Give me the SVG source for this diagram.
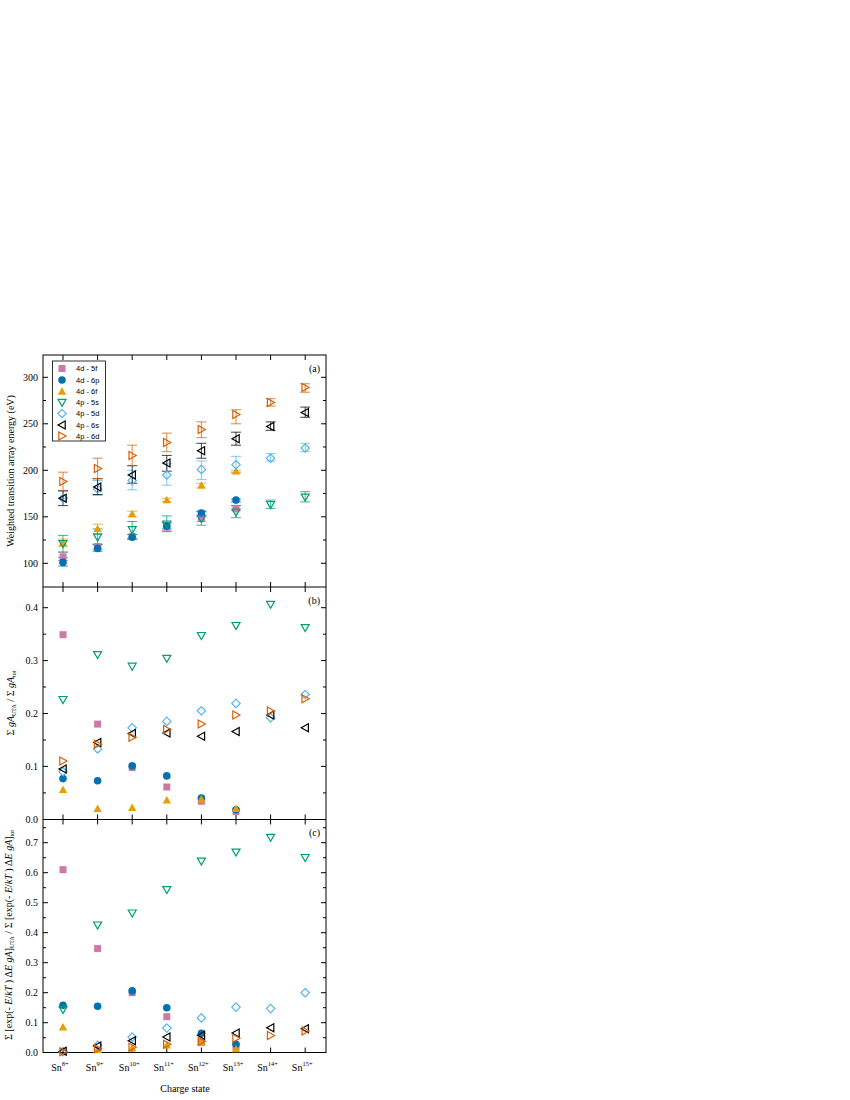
<svg xmlns="http://www.w3.org/2000/svg" xmlns:xlink="http://www.w3.org/1999/xlink" width="850" height="1100" viewBox="0 0 850 1100">
<style>
text{font-family:"Liberation Serif","Times New Roman",serif;fill:#000}
.tl{font-size:10px;text-anchor:end}
.xl{font-size:10px;text-anchor:middle}
.lg{font-family:"Liberation Sans",Arial,sans-serif;font-size:7.5px}
.ax{fill:none;stroke:#000;stroke-width:1}
.eb{fill:none;stroke-width:1;opacity:0.75}
</style>
<defs>
<rect id="sq" x="-3.5" y="-3.5" width="7" height="7" fill="#CC79A7"/>
<circle id="ci" r="3.8" fill="#0072B2"/>
<path id="tu" d="M0-4.2L4.2 3.2H-4.2Z" fill="#E69F00"/>
<path id="td" d="M-4 -3.2H4L0 3.8Z" fill="none" stroke="#009E73" stroke-width="1.2"/>
<path id="di" d="M0-4.2L4.2 0L0 4.2L-4.2 0Z" fill="none" stroke="#56B4E9" stroke-width="1.2"/>
<path id="tlf" d="M-4 0L3.2-4V4Z" fill="none" stroke="#000" stroke-width="1.2"/>
<path id="trf" d="M4 0L-3.2-4V4Z" fill="none" stroke="#D55E00" stroke-width="1.2"/>
</defs>
<g id="axes">
<rect class="ax" x="43" y="355" width="283" height="697.5"/>
<path class="ax" d="M43 587H326M43 819.5H326"/>
<path class="ax" d="M43 563.3h5M43 516.8h5M43 470.3h5M43 423.8h5M43 377.3h5M43 540h3M43 493.5h3M43 447h3M43 400.5h3M326 563.3h-5M326 516.8h-5M326 470.3h-5M326 423.8h-5M326 377.3h-5M326 540h-3M326 493.5h-3M326 447h-3M326 400.5h-3
M43 766.4h5M43 713.5h5M43 660.6h5M43 607.7h5M43 792.9h3M43 740h3M43 687h3M43 634.2h3M326 766.4h-5M326 713.5h-5M326 660.6h-5M326 607.7h-5M326 792.9h-3M326 740h-3M326 687h-3M326 634.2h-3
M43 1022.7h5M43 992.7h5M43 962.7h5M43 932.7h5M43 902.7h5M43 872.7h5M43 842.7h5M43 1037.7h3M43 1007.7h3M43 977.7h3M43 947.7h3M43 917.7h3M43 887.7h3M43 857.7h3M43 827.7h3M326 1022.7h-5M326 992.7h-5M326 962.7h-5M326 932.7h-5M326 902.7h-5M326 872.7h-5M326 842.7h-5M326 1037.7h-3M326 1007.7h-3M326 977.7h-3M326 947.7h-3M326 917.7h-3M326 887.7h-3M326 857.7h-3M326 827.7h-3"/>
<path class="ax" d="M63 355v5M97.6 355v5M132.2 355v5M166.8 355v5M201.4 355v5M236 355v5M270.6 355v5M305.2 355v5
M63 582v10M97.6 582v10M132.2 582v10M166.8 582v10M201.4 582v10M236 582v10M270.6 582v10M305.2 582v10
M63 814.5v10M97.6 814.5v10M132.2 814.5v10M166.8 814.5v10M201.4 814.5v10M236 814.5v10M270.6 814.5v10M305.2 814.5v10
M63 1052.5v-5M97.6 1052.5v-5M132.2 1052.5v-5M166.8 1052.5v-5M201.4 1052.5v-5M236 1052.5v-5M270.6 1052.5v-5M305.2 1052.5v-5"/>
</g>
<g id="ticklabels">
<text class="tl" x="38" y="566.8">100</text><text class="tl" x="38" y="520.3">150</text><text class="tl" x="38" y="473.8">200</text><text class="tl" x="38" y="427.3">250</text><text class="tl" x="38" y="380.8">300</text>
<text class="tl" x="38" y="822.8">0.0</text><text class="tl" x="38" y="769.9">0.1</text><text class="tl" x="38" y="717">0.2</text><text class="tl" x="38" y="664.1">0.3</text><text class="tl" x="38" y="611.2">0.4</text>
<text class="tl" x="38" y="1056.2">0.0</text><text class="tl" x="38" y="1026.2">0.1</text><text class="tl" x="38" y="996.2">0.2</text><text class="tl" x="38" y="966.2">0.3</text><text class="tl" x="38" y="936.2">0.4</text><text class="tl" x="38" y="906.2">0.5</text><text class="tl" x="38" y="876.2">0.6</text><text class="tl" x="38" y="846.2">0.7</text>
<text class="xl" x="60" y="1071">Sn<tspan font-size="6.5" dy="-5">8+</tspan></text>
<text class="xl" x="94.6" y="1071">Sn<tspan font-size="6.5" dy="-5">9+</tspan></text>
<text class="xl" x="129.2" y="1071">Sn<tspan font-size="6.5" dy="-5">10+</tspan></text>
<text class="xl" x="163.8" y="1071">Sn<tspan font-size="6.5" dy="-5">11+</tspan></text>
<text class="xl" x="198.4" y="1071">Sn<tspan font-size="6.5" dy="-5">12+</tspan></text>
<text class="xl" x="233" y="1071">Sn<tspan font-size="6.5" dy="-5">13+</tspan></text>
<text class="xl" x="267.6" y="1071">Sn<tspan font-size="6.5" dy="-5">14+</tspan></text>
<text class="xl" x="302.2" y="1071">Sn<tspan font-size="6.5" dy="-5">15+</tspan></text>
<text class="xl" x="185" y="1092" font-size="10">Charge state</text>
<text x="320" y="372" font-size="10" text-anchor="end">(a)</text>
<text x="320" y="604" font-size="10" text-anchor="end">(b)</text>
<text x="320" y="836" font-size="10" text-anchor="end">(c)</text>
<text transform="translate(14 471) rotate(-90)" font-size="10" text-anchor="middle">Weighted transition array energy (eV)</text>
<text transform="translate(14 703) rotate(-90)" font-size="10" text-anchor="middle">Σ <tspan font-style="italic">gA</tspan><tspan font-size="6" dy="2">UTA</tspan><tspan dy="-2"> / Σ </tspan><tspan font-style="italic">gA</tspan><tspan font-size="6" dy="2">tot</tspan></text>
<text transform="translate(12 935) rotate(-90)" font-size="10" text-anchor="middle">Σ [exp(- <tspan font-style="italic">E</tspan>/<tspan font-style="italic">kT</tspan> ) Δ<tspan font-style="italic">E gA</tspan>]<tspan font-size="6" dy="2">UTA</tspan><tspan dy="-2"> / Σ [exp(- </tspan><tspan font-style="italic">E</tspan>/<tspan font-style="italic">kT</tspan> ) Δ<tspan font-style="italic">E gA</tspan>]<tspan font-size="6" dy="2">tot</tspan></text>
</g>
<g id="errorbars">
<path class="eb" stroke="#CC79A7" d="M58 560.5h10M63 560.5V552.1M58 552.1h10M92.6 549.4h10M97.6 549.4V543.8M92.6 543.8h10M127.2 538.2h10M132.2 538.2V534.5M127.2 534.5h10M161.8 530.8h10M166.8 530.8V523.3M161.8 523.3h10M196.4 521.5h10M201.4 521.5V515M196.4 515h10M231 510.3h10M236 510.3V505.6M231 505.6h10"/>
<path class="eb" stroke="#0072B2" d="M58 566.1h10M63 566.1V557.7M58 557.7h10M92.6 551.2h10M97.6 551.2V544.7M92.6 544.7h10M127.2 539.1h10M132.2 539.1V534.5M127.2 534.5h10M161.8 528.9h10M166.8 528.9V522.4M161.8 522.4h10M196.4 516.8h10M201.4 516.8V511.2M196.4 511.2h10M231 501.9h10M236 501.9V499.1M231 499.1h10"/>
<path class="eb" stroke="#E69F00" d="M58 546.6h10M63 546.6V539.1M58 539.1h10M92.6 533.5h10M97.6 533.5V524.2M92.6 524.2h10M127.2 516.8h10M132.2 516.8V511.2M127.2 511.2h10M161.8 501.9h10M166.8 501.9V498.2M161.8 498.2h10M196.4 488h10M201.4 488V483.3M196.4 483.3h10M231 473.1h10M236 473.1V470.3M231 470.3h10"/>
<path class="eb" stroke="#009E73" d="M58 552.1h10M63 552.1V535.4M58 535.4h10M92.6 544.7h10M97.6 544.7V528.9M92.6 528.9h10M127.2 539.1h10M132.2 539.1V521.5M127.2 521.5h10M161.8 531.7h10M166.8 531.7V515.9M161.8 515.9h10M196.4 525.2h10M201.4 525.2V511.2M196.4 511.2h10M231 517.7h10M236 517.7V505.6M231 505.6h10M265.6 508.4h10M270.6 508.4V500.1M265.6 500.1h10M300.2 501.9h10M305.2 501.9V491.7M300.2 491.7h10"/>
<path class="eb" stroke="#56B4E9" d="M58 498.2h10M63 498.2V490.8M58 490.8h10M92.6 495.4h10M97.6 495.4V480.5M92.6 480.5h10M127.2 489.8h10M132.2 489.8V470.3M127.2 470.3h10M161.8 485.2h10M166.8 485.2V463.8M161.8 463.8h10M196.4 479.6h10M201.4 479.6V461M196.4 461h10M231 472.2h10M236 472.2V456.3M231 456.3h10M265.6 461h10M270.6 461V453.6M265.6 453.6h10M300.2 451.7h10M305.2 451.7V443.3M300.2 443.3h10"/>
<path class="eb" stroke="#000" d="M58 505.6h10M63 505.6V490.8M58 490.8h10M92.6 494.5h10M97.6 494.5V478.7M92.6 478.7h10M127.2 483.3h10M132.2 483.3V465.7M127.2 465.7h10M161.8 471.2h10M166.8 471.2V455.4M161.8 455.4h10M196.4 458.2h10M201.4 458.2V443.3M196.4 443.3h10M231 445.2h10M236 445.2V432.2M231 432.2h10M265.6 430.3h10M270.6 430.3V421.9M265.6 421.9h10M300.2 417.3h10M305.2 417.3V407.1M300.2 407.1h10"/>
<path class="eb" stroke="#D55E00" d="M58 490.8h10M63 490.8V472.2M58 472.2h10M92.6 478.7h10M97.6 478.7V458.2M92.6 458.2h10M127.2 465.7h10M132.2 465.7V445.2M127.2 445.2h10M161.8 451.7h10M166.8 451.7V433.1M161.8 433.1h10M196.4 437.7h10M201.4 437.7V421.9M196.4 421.9h10M231 423.8h10M236 423.8V409.8M231 409.8h10M265.6 406.1h10M270.6 406.1V398.7M265.6 398.7h10M300.2 392.2h10M305.2 392.2V383.8M300.2 383.8h10"/>
</g>
<g id="panel-a">
<use href="#sq" x="63" y="556.8"/><use href="#sq" x="97.6" y="546.6"/><use href="#sq" x="132.2" y="536.3"/><use href="#sq" x="166.8" y="527"/><use href="#sq" x="201.4" y="518.7"/><use href="#sq" x="236" y="508.4"/>
<use href="#ci" x="63" y="562.4"/><use href="#ci" x="97.6" y="548.4"/><use href="#ci" x="132.2" y="537.3"/><use href="#ci" x="166.8" y="526.1"/><use href="#ci" x="201.4" y="513.1"/><use href="#ci" x="236" y="500.1"/>
<use href="#tu" x="63" y="542.8"/><use href="#tu" x="97.6" y="528.9"/><use href="#tu" x="132.2" y="514"/><use href="#tu" x="166.8" y="500.1"/><use href="#tu" x="201.4" y="485.2"/><use href="#tu" x="236" y="471.2"/>
<use href="#td" x="63" y="543.8"/><use href="#td" x="97.6" y="537.3"/><use href="#td" x="132.2" y="529.8"/><use href="#td" x="166.8" y="524.2"/><use href="#td" x="201.4" y="518.7"/><use href="#td" x="236" y="512.2"/><use href="#td" x="270.6" y="504.7"/><use href="#td" x="305.2" y="497.3"/>
<use href="#di" x="63" y="498.2"/><use href="#di" x="97.6" y="488.9"/><use href="#di" x="132.2" y="480.5"/><use href="#di" x="166.8" y="475"/><use href="#di" x="201.4" y="469.4"/><use href="#di" x="236" y="464.7"/><use href="#di" x="270.6" y="458.2"/><use href="#di" x="305.2" y="448"/>
<use href="#tlf" x="63" y="498.2"/><use href="#tlf" x="97.6" y="487"/><use href="#tlf" x="132.2" y="475"/><use href="#tlf" x="166.8" y="462.9"/><use href="#tlf" x="201.4" y="450.8"/><use href="#tlf" x="236" y="438.7"/><use href="#tlf" x="270.6" y="426.6"/><use href="#tlf" x="305.2" y="412.6"/>
<use href="#trf" x="63" y="481.5"/><use href="#trf" x="97.6" y="468.4"/><use href="#trf" x="132.2" y="455.4"/><use href="#trf" x="166.8" y="442.4"/><use href="#trf" x="201.4" y="429.4"/><use href="#trf" x="236" y="414.4"/><use href="#trf" x="270.6" y="402.4"/><use href="#trf" x="305.2" y="387.5"/>
</g>
<g id="legend">
<rect x="52.5" y="361" width="53" height="80" fill="#fff" stroke="#000" stroke-width="0.8"/>
<use href="#sq" x="62" y="368.5"/><text class="lg" x="76" y="371">4d - 5f</text>
<use href="#ci" x="62" y="380"/><text class="lg" x="76" y="382.5">4d - 6p</text>
<use href="#tu" x="62" y="391.5"/><text class="lg" x="76" y="394">4d - 6f</text>
<use href="#td" x="62" y="402.5"/><text class="lg" x="76" y="405">4p - 5s</text>
<use href="#di" x="62" y="413.5"/><text class="lg" x="76" y="416">4p - 5d</text>
<use href="#tlf" x="62" y="425"/><text class="lg" x="76" y="427.5">4p - 6s</text>
<use href="#trf" x="62" y="436"/><text class="lg" x="76" y="438.5">4p - 6d</text>
</g>
<g id="panel-b">
<use href="#sq" x="63" y="634.7"/><use href="#sq" x="97.6" y="724.1"/><use href="#sq" x="132.2" y="767.5"/><use href="#sq" x="166.8" y="787"/><use href="#sq" x="201.4" y="801.3"/><use href="#sq" x="236" y="811.4"/>
<use href="#ci" x="63" y="778.6"/><use href="#ci" x="97.6" y="780.7"/><use href="#ci" x="132.2" y="765.9"/><use href="#ci" x="166.8" y="775.9"/><use href="#ci" x="201.4" y="798.1"/><use href="#ci" x="236" y="809.8"/>
<use href="#tu" x="63" y="789.7"/><use href="#tu" x="97.6" y="808.7"/><use href="#tu" x="132.2" y="807.7"/><use href="#tu" x="166.8" y="800.3"/><use href="#tu" x="201.4" y="799.2"/><use href="#tu" x="236" y="808.7"/>
<use href="#td" x="63" y="699.7"/><use href="#td" x="97.6" y="654.8"/><use href="#td" x="132.2" y="666.4"/><use href="#td" x="166.8" y="658.5"/><use href="#td" x="201.4" y="635.7"/><use href="#td" x="236" y="625.7"/><use href="#td" x="270.6" y="604.5"/><use href="#td" x="305.2" y="627.8"/>
<use href="#di" x="63" y="771.7"/><use href="#di" x="97.6" y="748.9"/><use href="#di" x="132.2" y="727.8"/><use href="#di" x="166.8" y="721.4"/><use href="#di" x="201.4" y="710.8"/><use href="#di" x="236" y="703.4"/><use href="#di" x="270.6" y="717.7"/><use href="#di" x="305.2" y="694.5"/>
<use href="#tlf" x="63" y="769"/><use href="#tlf" x="97.6" y="742.6"/><use href="#tlf" x="132.2" y="733.6"/><use href="#tlf" x="166.8" y="733.1"/><use href="#tlf" x="201.4" y="736.2"/><use href="#tlf" x="236" y="731.5"/><use href="#tlf" x="270.6" y="715.1"/><use href="#tlf" x="305.2" y="727.8"/>
<use href="#trf" x="63" y="761.1"/><use href="#trf" x="97.6" y="744.2"/><use href="#trf" x="132.2" y="737.3"/><use href="#trf" x="166.8" y="729.4"/><use href="#trf" x="201.4" y="724.1"/><use href="#trf" x="236" y="715.1"/><use href="#trf" x="270.6" y="710.9"/><use href="#trf" x="305.2" y="698.7"/>
</g>
<g id="panel-c">
<use href="#sq" x="63" y="869.7"/><use href="#sq" x="97.6" y="948.6"/><use href="#sq" x="132.2" y="992.7"/><use href="#sq" x="166.8" y="1016.7"/><use href="#sq" x="201.4" y="1042.2"/><use href="#sq" x="236" y="1046.7"/>
<use href="#ci" x="63" y="1005.3"/><use href="#ci" x="97.6" y="1006.2"/><use href="#ci" x="132.2" y="990.9"/><use href="#ci" x="166.8" y="1007.7"/><use href="#ci" x="201.4" y="1033.2"/><use href="#ci" x="236" y="1044.3"/>
<use href="#tu" x="63" y="1027.2"/><use href="#tu" x="97.6" y="1049.7"/><use href="#tu" x="132.2" y="1048.2"/><use href="#tu" x="166.8" y="1045.2"/><use href="#tu" x="201.4" y="1042.8"/><use href="#tu" x="236" y="1049.1"/>
<use href="#td" x="63" y="1009.8"/><use href="#td" x="97.6" y="925.2"/><use href="#td" x="132.2" y="913.2"/><use href="#td" x="166.8" y="889.8"/><use href="#td" x="201.4" y="861.3"/><use href="#td" x="236" y="852.3"/><use href="#td" x="270.6" y="837.6"/><use href="#td" x="305.2" y="857.7"/>
<use href="#di" x="63" y="1051.8"/><use href="#di" x="97.6" y="1045.2"/><use href="#di" x="132.2" y="1037.1"/><use href="#di" x="166.8" y="1028.1"/><use href="#di" x="201.4" y="1017.9"/><use href="#di" x="236" y="1007.1"/><use href="#di" x="270.6" y="1008.6"/><use href="#di" x="305.2" y="992.7"/>
<use href="#tlf" x="63" y="1051.2"/><use href="#tlf" x="97.6" y="1046.1"/><use href="#tlf" x="132.2" y="1040.7"/><use href="#tlf" x="166.8" y="1037.1"/><use href="#tlf" x="201.4" y="1035.3"/><use href="#tlf" x="236" y="1032.9"/><use href="#tlf" x="270.6" y="1027.8"/><use href="#tlf" x="305.2" y="1028.7"/>
<use href="#trf" x="63" y="1051.8"/><use href="#trf" x="97.6" y="1048.8"/><use href="#trf" x="132.2" y="1047.3"/><use href="#trf" x="166.8" y="1044.3"/><use href="#trf" x="201.4" y="1041.3"/><use href="#trf" x="236" y="1038.3"/><use href="#trf" x="270.6" y="1035.6"/><use href="#trf" x="305.2" y="1031.1"/>
</g>
</svg>
